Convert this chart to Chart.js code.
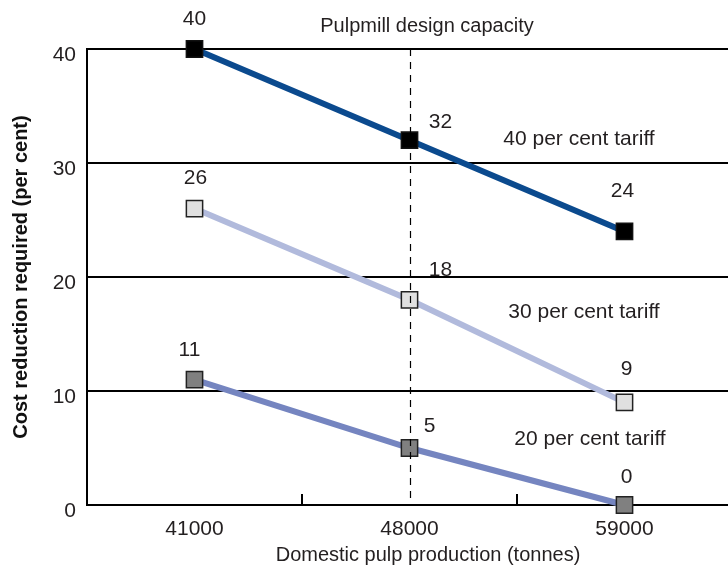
<!DOCTYPE html>
<html>
<head>
<meta charset="utf-8">
<script src="https://cdn.jsdelivr.net/npm/chart.js@4.4.1/dist/chart.umd.min.js"></script>
<style>
  html, body { margin: 0; padding: 0; background: #fff; overflow: hidden; }
  #wrap { width: 732px; height: 568px; }
</style>
</head>
<body>
<div id="wrap"><canvas id="grafico" width="732" height="568"></canvas></div>
<script>
// dados do gráfico
const producao = ['41000', '48000', '59000'];
const tarifa40 = [40, 32, 24];
const tarifa30 = [26, 18, 9];
const tarifa20 = [11, 5, 0];
const nomesSeries = ['40 per cent tariff', '30 per cent tariff', '20 per cent tariff'];
const ticksY = [0, 10, 20, 30, 40];

const corTexto = '#231f20';
const fonte = "'Liberation Sans', Arial, sans-serif";

// posição dos rótulos de valor em relação ao ponto [dx, dy]
const desvios = [
    [[0, -30], [31, -18], [-2, -40]],
    [[1, -30], [31, -30], [2, -33]],
    [[-5, -29], [20, -22], [2, -28]]
];

// textos soltos dentro do gráfico
const notas = [
    { texto: 'Pulpmill design capacity', x: 427, y: 26, tam: 20 },
    { texto: nomesSeries[0], x: 579, y: 139 },
    { texto: nomesSeries[1], x: 584, y: 312 },
    { texto: nomesSeries[2], x: 590, y: 439 },
    { texto: 'Domestic pulp production (tonnes)', x: 428, y: 555, tam: 20 }
];

const pluginTextos = {
    id: 'textos',
    afterDatasetsDraw(chart) {
        const ctx = chart.ctx;
        const area = chart.chartArea;
        const x = chart.scales.x;

        // linha tracejada da capacidade da fábrica
        const xm = Math.round(x.getPixelForValue(1)) + 0.5;
        ctx.save();
        ctx.strokeStyle = '#000';
        ctx.lineWidth = 1.2;
        ctx.setLineDash([7, 6]);
        ctx.beginPath();
        ctx.moveTo(xm, area.top);
        ctx.lineTo(xm, area.bottom);
        ctx.stroke();
        ctx.restore();

        // rótulos dos valores
        ctx.save();
        ctx.fillStyle = corTexto;
        ctx.font = '21px ' + fonte;
        ctx.textAlign = 'center';
        ctx.textBaseline = 'middle';
        chart.data.datasets.forEach((ds, i) => {
            const meta = chart.getDatasetMeta(i);
            meta.data.forEach((pt, j) => {
                const d = desvios[i][j];
                ctx.fillText(String(ds.data[j]), pt.x + d[0], pt.y + d[1]);
            });
        });

        notas.forEach(n => {
            ctx.font = (n.tam || 21) + 'px ' + fonte;
            ctx.fillText(n.texto, n.x, n.y);
        });
        ctx.restore();
    }
};

function serie(rotulo, valores, corLinha, corPonto, corBorda) {
    return {
        label: rotulo,
        data: valores,
        clip: false,
        borderColor: corLinha,
        borderWidth: 6,
        pointStyle: 'rect',
        pointRadius: 11.5,
        pointBackgroundColor: corPonto,
        pointBorderColor: corBorda,
        pointBorderWidth: 1.5
    };
}

const ctx = document.getElementById('grafico').getContext('2d');
const grafico = new Chart(ctx, {
    type: 'line',
    data: {
        labels: producao,
        datasets: [
            serie(nomesSeries[0], tarifa40, '#0b4a8e', '#000', '#111'),
            serie(nomesSeries[1], tarifa30, '#b1badc', '#e0e0e0', '#222'),
            serie(nomesSeries[2], tarifa20, '#7585c0', '#808080', '#222')
        ]
    },
    options: {
        responsive: false,
        animation: false,
        layout: { autoPadding: false, padding: { left: 0, right: 0, top: 49, bottom: 0 } },
        plugins: {
            legend: { display: false },
            tooltip: { enabled: false }
        },
        scales: {
            x: {
                offset: true,
                grid: {
                    offset: true,
                    drawOnChartArea: false,
                    drawTicks: true,
                    tickLength: -11,
                    color: '#000',
                    lineWidth: 2
                },
                border: { display: true, color: '#000', width: 2 },
                ticks: {
                    color: corTexto,
                    font: { family: fonte, size: 21 },
                    padding: 23,
                    maxRotation: 0
                },
                afterFit(scale) { scale.height = 63; }
            },
            y: {
                min: 0,
                max: 40,
                afterBuildTicks(scale) { scale.ticks = ticksY.map(v => ({ value: v })); },
                grid: { color: '#000', lineWidth: 2, drawTicks: false },
                border: { display: true, color: '#000', width: 2 },
                ticks: {
                    color: corTexto,
                    font: { family: fonte, size: 21 },
                    padding: 11,
                    labelOffset: 6
                },
                title: {
                    display: true,
                    text: 'Cost reduction required (per cent)',
                    color: '#111',
                    font: { family: fonte, size: 20, weight: 'bold' },
                    padding: { top: 9, bottom: 0 }
                },
                afterFit(scale) { scale.width = 87; }
            }
        }
    },
    plugins: [pluginTextos]
});
</script>
</body>
</html>
